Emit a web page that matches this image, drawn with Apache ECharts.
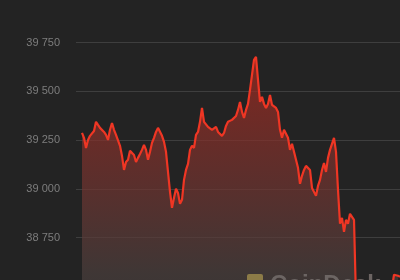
<!DOCTYPE html>
<html>
<head>
<meta charset="utf-8">
<script src="https://cdn.jsdelivr.net/npm/echarts@6/dist/echarts.min.js"></script>
<style>
html,body{margin:0;padding:0;background:#232323;overflow:hidden;width:400px;height:280px;}
#chart{position:absolute;left:0;top:-6px;width:400px;height:341px;}
</style>
</head>
<body>
<div id="chart"></div>
<script>
// Price series (USD), sampled evenly across the visible period
var prices = [
39287,39262,39210,39251,39272,39267,39297,39344,39328,39313,
39303,39292,39277,39251,39303,39338,39303,39277,39267,39221,
39169,39097,39138,39149,39195,39200,39174,39138,39159,39179,
39200,39226,39200,39149,39190,39236,39262,39292,39313,39303,
39272,39241,39190,39087,38985,38903,38954,39000,38979,38923,
38944,39046,39097,39128,39200,39221,39210,39277,39292,39344,
39415,39344,39354,39318,39323,39303,39313,39318,39292,39282,
39272,39287,39323,39344,39349,39354,39364,39374,39405,39446,
39395,39364,39405,39436,39508,39518,39662,39677,39559,39446,
39472,39436,39415,39436,39482,39431,39426,39415,39395,39303,
39262,39303,39313,39262,39200,39231,39221,39149,39108,39026,
39067,39097,39118,39128,39097,39005,38995,38964,39015,39046,
39097,39133,39087,39159,39200,39231,39262,39190,38995,38821,
38851,38779,38841,38821,38872,38882,38841,38431,38379,38405,
38369,38338,38390,38431,38405,38451,38431,38390,38421,38462,
38441,38410,38451,38472,38441,38492,38559,38569,38554,38549
];
var yTicks = [38250, 38500, 38750, 39000, 39250, 39500, 39750, 40000];
var shownTicks = [38750, 39000, 39250, 39500, 39750];

var seriesData = prices.map(function (p, i) { return [i, p]; });

function fmt(v) {
  var s = String(Math.round(v));
  return s.replace(/\B(?=(\d{3})+(?!\d))/g, ' ');
}

var chart = echarts.init(document.getElementById('chart'), null, {renderer: 'canvas'});
chart.setOption({
  backgroundColor: '#232323',
  animation: false,
  grid: {left: 76, right: 0, top: 0, bottom: 0, containLabel: false},
  xAxis: {
    type: 'value',
    min: -3,
    max: prices.length - 1,
    show: false,
    splitLine: {show: false}
  },
  yAxis: {
    type: 'value',
    min: yTicks[0],
    max: yTicks[yTicks.length - 1],
    interval: 250,
    axisLine: {show: false},
    axisTick: {show: false},
    axisLabel: {
      color: '#7d7d7d',
      fontSize: 11,
      fontFamily: 'Liberation Sans, Arial, sans-serif',
      margin: 16,
      formatter: function (v) { return shownTicks.indexOf(v) >= 0 ? fmt(v) : ''; }
    },
    splitLine: {lineStyle: {color: '#3e3e3e', width: 1}}
  },
  series: [{
    type: 'line',
    data: seriesData,
    symbol: 'none',
    smooth: false,
    lineStyle: {color: '#ef3624', width: 2.2},
    areaStyle: {
      origin: 'start',
      color: new echarts.graphic.LinearGradient(0, 0, 0, 1, [
        {offset: 0, color: '#a8291f'},
        {offset: 0.45, color: '#733430'},
        {offset: 0.78, color: '#4b3f3d'},
        {offset: 1, color: '#403a3a'}
      ])
    },
    z: 2
  }],
  graphic: [
    {type: 'rect', left: 247, top: 280, shape: {width: 16, height: 14, r: 2},
     style: {fill: '#8c7b47'}, z: 10},
    {type: 'text', left: 270, top: 279,
     style: {text: 'CoinDesk', fill: '#6c6563', fontSize: 24, fontWeight: 'bold',
             fontFamily: 'Liberation Sans, Arial, sans-serif'}, z: 10}
  ]
});
</script>
</body>
</html>
